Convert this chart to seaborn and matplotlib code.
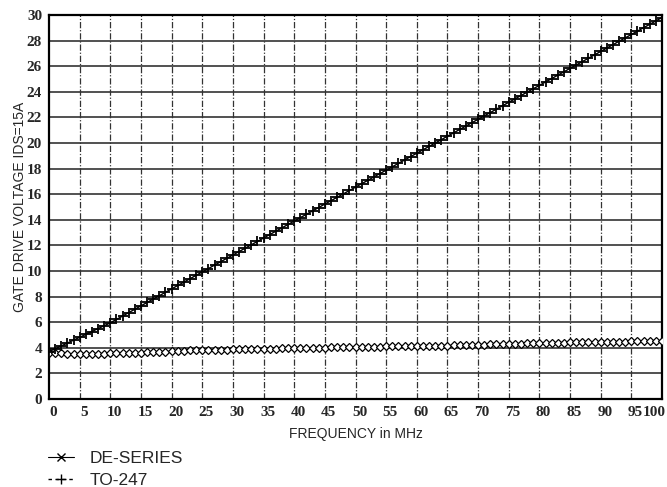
import numpy as np
import matplotlib
matplotlib.use("Agg")
import matplotlib.pyplot as plt
import matplotlib.transforms as mtransforms
from matplotlib.lines import Line2D
import seaborn as sns

# frequency in MHz, one point per MHz
freq = np.arange(0, 101)

de_series = [3.62, 3.58, 3.56, 3.55, 3.55, 3.54, 3.54, 3.54, 3.54, 3.55,
             3.58, 3.60, 3.61, 3.62, 3.62, 3.63, 3.64, 3.65, 3.65, 3.66,
             3.75, 3.77, 3.78, 3.79, 3.80, 3.81, 3.82, 3.83, 3.84, 3.85,
             3.87, 3.88, 3.89, 3.90, 3.91, 3.92, 3.93, 3.94, 3.95, 3.96,
             3.97, 3.98, 3.99, 4.00, 4.01, 4.02, 4.03, 4.04, 4.05, 4.06,
             4.07, 4.08, 4.08, 4.09, 4.10, 4.11, 4.11, 4.12, 4.13, 4.13,
             4.14, 4.15, 4.15, 4.16, 4.17, 4.17, 4.18, 4.18, 4.19, 4.20,
             4.21, 4.24, 4.26, 4.28, 4.30, 4.31, 4.32, 4.33, 4.34, 4.35,
             4.36, 4.37, 4.38, 4.39, 4.41, 4.42, 4.43, 4.44, 4.44, 4.45,
             4.46, 4.47, 4.47, 4.48, 4.49, 4.50, 4.51, 4.51, 4.52, 4.52,
             4.53]

to247 = [3.70, 3.92, 4.15, 4.37, 4.60, 4.82, 5.05, 5.27, 5.50, 5.72,
         5.95, 6.22, 6.48, 6.75, 7.01, 7.28, 7.54, 7.81, 8.07, 8.34,
         8.60, 8.87, 9.13, 9.40, 9.66, 9.93, 10.19, 10.46, 10.72, 10.99,
         11.25, 11.52, 11.78, 12.05, 12.31, 12.58, 12.84, 13.11, 13.37, 13.64,
         13.90, 14.17, 14.43, 14.70, 14.96, 15.23, 15.49, 15.76, 16.02, 16.29,
         16.55, 16.82, 17.08, 17.35, 17.61, 17.88, 18.14, 18.41, 18.67, 18.94,
         19.20, 19.47, 19.73, 20.00, 20.26, 20.53, 20.79, 21.06, 21.32, 21.59,
         21.85, 22.12, 22.38, 22.65, 22.91, 23.18, 23.44, 23.71, 23.97, 24.24,
         24.50, 24.77, 25.03, 25.30, 25.56, 25.83, 26.09, 26.36, 26.62, 26.89,
         27.15, 27.42, 27.68, 27.95, 28.21, 28.48, 28.74, 29.01, 29.27, 29.54,
         29.80]

x_ticks = list(range(0, 101, 5))
y_ticks = list(range(0, 31, 2))

sns.set_style("white")
plt.rcParams["font.family"] = ["Liberation Sans", "DejaVu Sans"]

fig = plt.figure(figsize=(6.67, 4.87), dpi=100)
ax = fig.add_axes([0.0735, 0.1807, 0.919, 0.7885])

# grid: solid horizontals, broken verticals
for yv in y_ticks[1:-1]:
    ax.axhline(yv, color="#222222", lw=1.1, zorder=1)
for xv in x_ticks[1:-1]:
    ax.axvline(xv, color="#333333", lw=0.9, ls=(0, (5, 1.5, 1, 1.5)), zorder=1)

sns.lineplot(x=freq, y=de_series, ax=ax, color="black", lw=0.8,
             marker="D", markersize=4.3, markerfacecolor="white",
             markeredgecolor="black", markeredgewidth=0.9, zorder=3)
sns.lineplot(x=freq, y=to247, ax=ax, color="black", lw=1.0,
             marker="+", markersize=6.5, markeredgecolor="black",
             markeredgewidth=1.3, zorder=3)

ax.set_xlim(0, 100)
ax.set_ylim(0, 30)
ax.set_xticks(x_ticks)
ax.set_yticks(y_ticks)
ax.tick_params(length=0, pad=5)
for lab in ax.get_xticklabels() + ax.get_yticklabels():
    lab.set_fontfamily("Liberation Serif")
    lab.set_fontsize(11)
    lab.set_fontweight("bold")

# x labels sit a little right of their grid lines in the original
shift = mtransforms.ScaledTranslation(4 / 100, 0, fig.dpi_scale_trans)
xlabs = ax.get_xticklabels()
for lab in xlabs:
    lab.set_transform(lab.get_transform() + shift)
xlabs[-1].set_horizontalalignment("right")

for s in ax.spines.values():
    s.set_visible(True)
    s.set_color("black")
    s.set_linewidth(1.6)

ax.set_xlabel("FREQUENCY in MHz", fontsize=10, labelpad=6)
ax.set_ylabel("GATE DRIVE VOLTAGE IDS=15A", fontsize=10)
ax.yaxis.set_label_coords(-0.036, 0.5)

handles = [
    Line2D([], [], color="black", lw=0.8, marker="x", markersize=6,
           markeredgewidth=1.0),
    Line2D([], [], color="black", lw=1.0, ls=(0, (2.5, 2.5)), marker="+",
           markersize=7, markeredgewidth=1.0),
]
fig.legend(handles, ["DE-SERIES", "TO-247"], loc="upper left",
           bbox_to_anchor=(0.072, 0.074), frameon=False, fontsize=12.5,
           handlelength=1.5, handletextpad=0.9, labelspacing=0.4,
           borderpad=0, borderaxespad=0)

fig.savefig("out.png", dpi=100)
